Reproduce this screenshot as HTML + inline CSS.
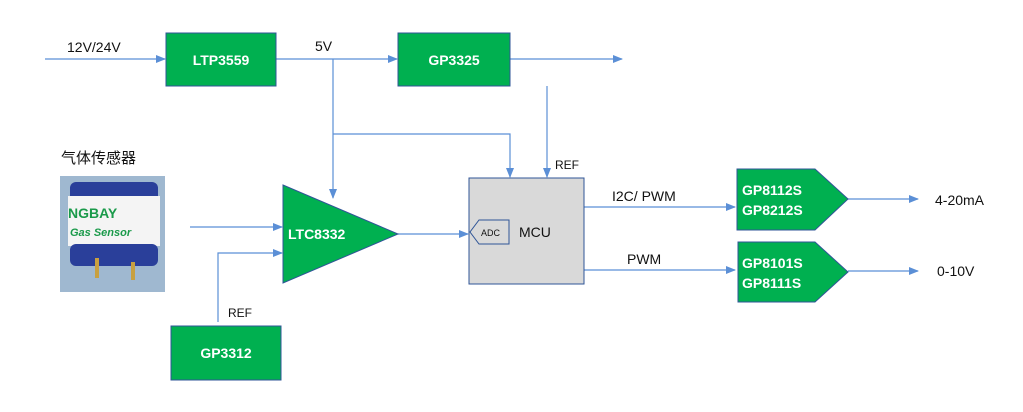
<!DOCTYPE html>
<html><head><meta charset="utf-8"><style>
html,body{margin:0;padding:0;background:#fff;}
svg{display:block;font-family:"Liberation Sans","Noto Sans CJK SC",sans-serif;}
.g{fill:#00b050;stroke:#2f5597;stroke-width:1}
.w{fill:#fff;font-weight:bold;font-size:14px}
.l{stroke:#5b8fd6;stroke-width:1.2;fill:none}
.t{font-size:14px;fill:#111}
</style></head><body>
<svg width="1023" height="412" viewBox="0 0 1023 412">
<defs><marker id="a" markerWidth="10" markerHeight="8" refX="9" refY="4" orient="auto" markerUnits="userSpaceOnUse"><path d="M0,0 L10,4 L0,8 z" fill="#5b8fd6"/></marker></defs>
<!-- lines -->
<path class="l" d="M45,59 H165" marker-end="url(#a)"/>
<path class="l" d="M276,59 H397" marker-end="url(#a)"/>
<path class="l" d="M510,59 H622" marker-end="url(#a)"/>
<path class="l" d="M333,59 V198" marker-end="url(#a)"/>
<path class="l" d="M333,134 H510 V177" marker-end="url(#a)"/>
<path class="l" d="M547,86 V177" marker-end="url(#a)"/>
<path class="l" d="M190,227 H282" marker-end="url(#a)"/>
<path class="l" d="M218,322 V253 H282" marker-end="url(#a)"/>
<path class="l" d="M398,234 H468" marker-end="url(#a)"/>
<path class="l" d="M584,207 H735" marker-end="url(#a)"/>
<path class="l" d="M584,270 H735" marker-end="url(#a)"/>
<path class="l" d="M848,199 H918" marker-end="url(#a)"/>
<path class="l" d="M848,271 H918" marker-end="url(#a)"/>
<!-- boxes -->
<rect class="g" x="166" y="33" width="110" height="53"/>
<text class="w" x="221" y="65" text-anchor="middle">LTP3559</text>
<rect class="g" x="398" y="33" width="112" height="53"/>
<text class="w" x="454" y="65" text-anchor="middle">GP3325</text>
<rect class="g" x="171" y="326" width="110" height="54"/>
<text class="w" x="226" y="358" text-anchor="middle">GP3312</text>
<path class="g" d="M283,185 L398,234 L283,283 z"/>
<text class="w" x="288" y="239">LTC8332</text>
<rect x="469" y="178" width="115" height="106" fill="#d9d9d9" stroke="#2f5597"/>
<path d="M509,220 H479 L470,232 L479,244 H509 z" fill="#d9d9d9" stroke="#2f5597"/>
<text x="481" y="236" font-size="9" fill="#111">ADC</text>
<text class="t" x="519" y="237">MCU</text>
<path class="g" d="M737,169 H815 L848,199 L815,230 H737 z"/>
<text class="w" x="742" y="195">GP8112S</text>
<text class="w" x="742" y="215">GP8212S</text>
<path class="g" d="M738,242 H815 L848,272 L815,302 H738 z"/>
<text class="w" x="742" y="268">GP8101S</text>
<text class="w" x="742" y="288">GP8111S</text>
<!-- labels -->
<text class="t" x="67" y="52">12V/24V</text>
<text class="t" x="315" y="51">5V</text>
<text x="555" y="169" font-size="12" fill="#111">REF</text>
<text x="228" y="317" font-size="12" fill="#111">REF</text>
<text class="t" x="612" y="201">I2C/ PWM</text>
<text class="t" x="627" y="264">PWM</text>
<text class="t" x="935" y="205">4-20mA</text>
<text class="t" x="937" y="276">0-10V</text>
<text x="61" y="163" font-size="15" fill="#111">气体传感器</text>
<!-- sensor image -->
<rect x="60" y="176" width="105" height="116" fill="#9fb8d0"/>
<rect x="70" y="182" width="88" height="20" rx="6" fill="#2a3f9a"/>
<rect x="68" y="196" width="92" height="50" fill="#f4f4f4"/>
<rect x="70" y="244" width="88" height="22" rx="6" fill="#2a3f9a"/>
<text x="68" y="218" font-size="14" font-weight="bold" fill="#1a9a4a">NGBAY</text>
<text x="70" y="236" font-size="11" font-style="italic" font-weight="bold" fill="#1a9a4a">Gas Sensor</text>
<rect x="95" y="258" width="4" height="20" fill="#c8a040"/>
<rect x="131" y="262" width="4" height="18" fill="#c8a040"/>
</svg>
</body></html>
